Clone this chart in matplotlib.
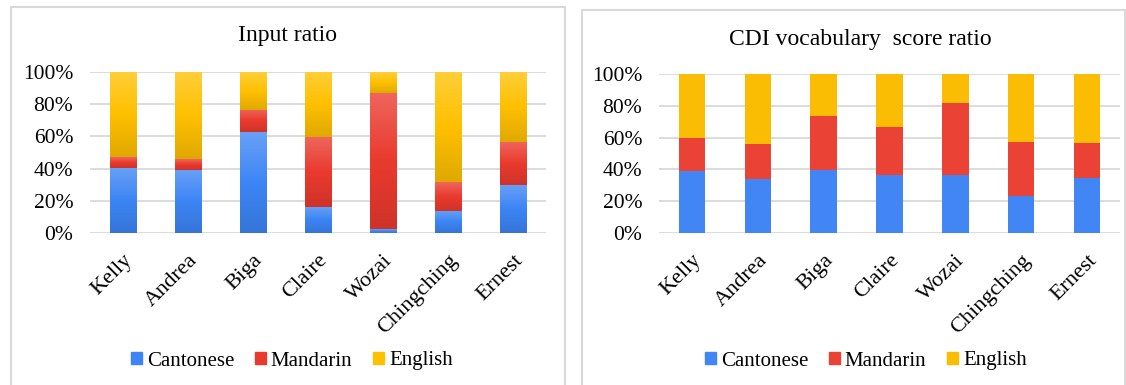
import numpy as np
import matplotlib
matplotlib.use("Agg")
import matplotlib.pyplot as plt
from matplotlib.patches import Patch, Rectangle
from matplotlib.colors import to_rgb
from matplotlib.transforms import ScaledTranslation

plt.rcParams['font.family'] = ['Liberation Serif', 'DejaVu Serif']

names = ['Kelly', 'Andrea', 'Biga', 'Claire', 'Wozai', 'Chingching', 'Ernest']
languages = ['Cantonese', 'Mandarin', 'English']

# input ratio (%)
input_cantonese = [40.6, 39.4, 62.5, 16.3, 2.3, 13.8, 29.9]
input_mandarin = [6.6, 6.8, 14.2, 43.3, 84.9, 17.7, 26.8]
input_english = [52.8, 53.8, 23.3, 40.4, 12.8, 68.5, 43.3]

# CDI vocabulary score ratio (%)
cdi_cantonese = [38.7, 33.9, 39.7, 36.2, 36.2, 23.2, 34.3]
cdi_mandarin = [21.1, 22.2, 33.7, 30.7, 45.6, 33.9, 22.2]
cdi_english = [40.2, 43.9, 26.6, 33.1, 18.2, 42.9, 43.5]

grad_colors = ['#3D85F5', '#EA3A2E', '#FFC000']
flat_colors = ['#4285F4', '#EA4335', '#FBBC04']

W, H = 1126, 385
fig = plt.figure(figsize=(W / 100, H / 100), dpi=100)


def px_axes(x0, y0, x1, y1):
    return fig.add_axes([x0 / W, 1 - y1 / H, (x1 - x0) / W, (y1 - y0) / H])


def gradient(color, n=64):
    c = np.array(to_rgb(color))
    light = c + (1 - c) * 0.22
    dark = c * 0.88
    t = np.linspace(0, 1, n)[:, None]
    # bottom -> middle -> top
    lower = dark + (c - dark) * np.clip(t * 2, 0, 1)
    upper = c + (light - c) * np.clip(t * 2 - 1, 0, 1)
    g = np.where(t < 0.5, lower, upper)
    return g[:, None, :]


def style_axes(ax):
    ax.set_xlim(-0.5, len(names) - 0.5)
    ax.set_ylim(0, 100)
    ax.set_yticks(range(0, 101, 20))
    ax.set_yticklabels(['%d%%' % v for v in range(0, 101, 20)], fontsize=15.5)
    ax.set_xticks(range(len(names)))
    ax.set_xticklabels(names, fontsize=16, rotation=45, ha='right',
                       va='top', rotation_mode='anchor')
    shift = ScaledTranslation(5 / 100, 0, fig.dpi_scale_trans)
    for lab in ax.get_xticklabels():
        lab.set_transform(lab.get_transform() + shift)
    ax.tick_params(length=0)
    ax.tick_params(axis='y', pad=12)
    ax.tick_params(axis='x', pad=13)
    for s in ax.spines.values():
        s.set_visible(False)
    ax.grid(axis='y', color='#D9D9D9', lw=1.3, zorder=0)
    ax.set_axisbelow(True)


def draw_panel(ax, series, colors, grad):
    x = np.arange(len(names))
    bottom = np.zeros(len(names))
    width = 0.4
    for vals, col in zip(series, colors):
        vals = np.array(vals)
        if grad:
            img = gradient(col)
            for xi, b, v in zip(x, bottom, vals):
                ax.imshow(img, extent=(xi - width / 2, xi + width / 2, b, b + v),
                          origin='lower', aspect='auto', zorder=2,
                          interpolation='bilinear')
        else:
            ax.bar(x, vals, width, bottom=bottom, color=col, zorder=2)
        bottom += vals
    style_axes(ax)


def legend(cx, cy, colors):
    handles = [Patch(color=c, label=l) for c, l in zip(colors, languages)]
    fig.legend(handles=handles, loc='center', bbox_to_anchor=(cx / W, 1 - cy / H),
               ncol=3, frameon=False, fontsize=15, handlelength=0.5,
               handleheight=0.5, handletextpad=0.25, columnspacing=1.0)


# panel frames
fig.add_artist(Rectangle((11 / W, -0.05), (565 - 11) / W, 1.05 - 7 / H,
                         transform=fig.transFigure, fill=False,
                         ec='#D9D9D9', lw=1.5))
fig.add_artist(Rectangle((582 / W, -0.05), (1125 - 582) / W, 1.05 - 10 / H,
                         transform=fig.transFigure, fill=False,
                         ec='#D9D9D9', lw=1.5))

ax1 = px_axes(90, 72, 546, 233)
draw_panel(ax1, [input_cantonese, input_mandarin, input_english], grad_colors, True)
fig.text(287 / W, 1 - 36 / H, 'Input ratio', fontsize=17, ha='center', va='center')
legend(292, 361, grad_colors)

ax2 = px_axes(659, 74, 1120, 233)
draw_panel(ax2, [cdi_cantonese, cdi_mandarin, cdi_english], flat_colors, False)
fig.text(860 / W, 1 - 39 / H, 'CDI vocabulary  score ratio', fontsize=17,
         ha='center', va='center')
legend(866, 361, flat_colors)

fig.savefig('out.png', dpi=100, facecolor='white')
